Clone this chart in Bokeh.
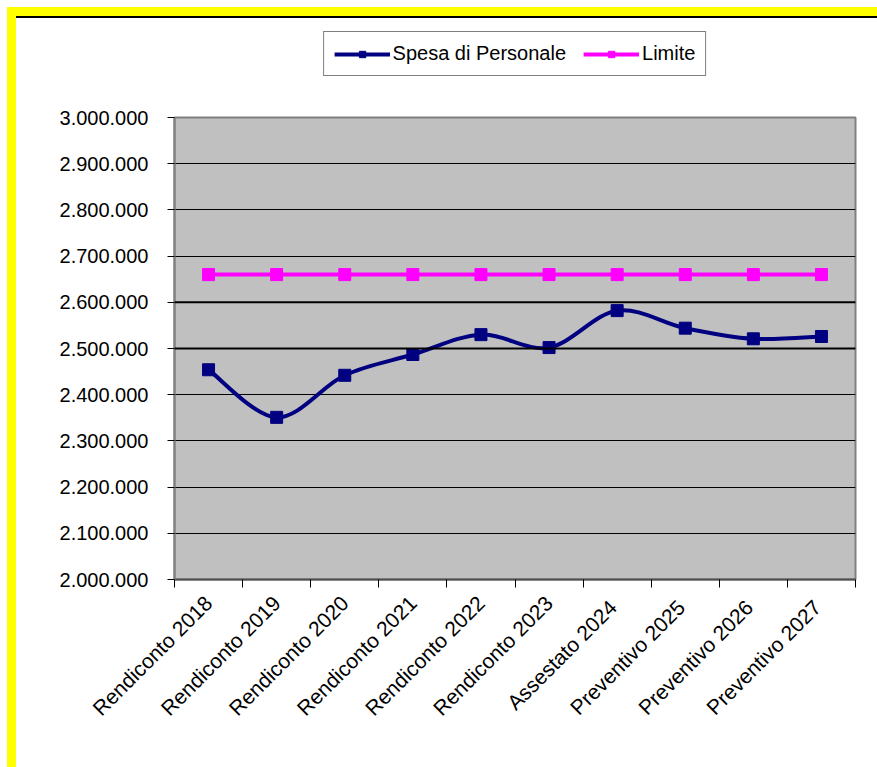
import math
from bokeh.plotting import figure
from bokeh.layouts import column
from bokeh.models import (Range1d, FixedTicker, Legend, LegendItem,
                          ColumnDataSource, Span)
from bokeh.embed import file_html
from bokeh.resources import INLINE

# ---- data -------------------------------------------------------------
categories = ["Rendiconto 2018", "Rendiconto 2019", "Rendiconto 2020", "Rendiconto 2021",
              "Rendiconto 2022", "Rendiconto 2023", "Assestato  2024", "Preventivo  2025",
              "Preventivo  2026", "Preventivo  2027"]
spesa_personale = [2454000, 2351000, 2442000, 2487000, 2530000,
                   2502000, 2582000, 2544000, 2521000, 2526000]
limite = [2660000] * 10
y_ticks = [2000000, 2100000, 2200000, 2300000, 2400000, 2500000,
           2600000, 2700000, 2800000, 2900000, 3000000]
emphasized_levels = [2500000, 2600000]
series_names = ["Spesa di Personale", "Limite"]

FONT = "Liberation Sans"
NAVY = "#000080"
MAGENTA = "#FF00FF"

xs = [i + 0.5 for i in range(len(categories))]

# ---- main chart ---------------------------------------------------------
p = figure(width=861, height=665, output_backend="svg", toolbar_location=None,
           x_range=Range1d(0, len(categories)), y_range=Range1d(2000000, 3000000),
           min_border_left=158, min_border_right=22, min_border_top=15,
           min_border_bottom=188)
p.background_fill_color = "#C0C0C0"
p.border_fill_color = "white"
p.outline_line_color = "#808080"
p.outline_line_width = 2

p.xgrid.grid_line_color = None
p.ygrid.grid_line_color = "black"
p.ygrid.grid_line_width = 1
for lv in emphasized_levels:
    p.add_layout(Span(location=lv, dimension="width", line_color="black", line_width=2))

p.yaxis.ticker = FixedTicker(ticks=y_ticks)
p.yaxis.major_label_overrides = {v: f"{v:,}".replace(",", ".") for v in y_ticks}
p.yaxis.major_label_text_font = FONT
p.yaxis.major_label_text_font_size = "20px"
p.yaxis.major_label_text_color = "black"
p.yaxis.axis_line_color = "#808080"
p.yaxis.axis_line_width = 2
p.yaxis.major_tick_line_color = "black"
p.yaxis.major_tick_out = 7
p.yaxis.major_tick_in = 0
p.yaxis.minor_tick_line_color = None
p.yaxis.major_label_standoff = 19

# labels at category centres, ticks on the category boundaries
p.xaxis.ticker = FixedTicker(ticks=xs, minor_ticks=list(range(len(categories) + 1)))
p.xaxis.major_label_overrides = {x: c for x, c in zip(xs, categories)}
p.xaxis.major_label_orientation = math.pi / 4
p.xaxis.major_label_text_font = FONT
p.xaxis.major_label_text_font_size = "21px"
p.xaxis.major_label_text_color = "black"
p.xaxis.axis_line_color = "#505050"
p.xaxis.axis_line_width = 2
p.xaxis.major_tick_line_color = None
p.xaxis.major_tick_out = 8
p.xaxis.major_tick_in = 0
p.xaxis.minor_tick_line_color = "black"
p.xaxis.minor_tick_out = 8
p.xaxis.minor_tick_in = 0
p.xaxis.major_label_standoff = 12


def smooth_segments(x, y):
    """Cubic Bezier segments through the points (Catmull-Rom style smoothing)."""
    n = len(x)
    seg = dict(x0=[], y0=[], x1=[], y1=[], cx0=[], cy0=[], cx1=[], cy1=[])
    for i in range(n - 1):
        xp, yp = (x[i - 1], y[i - 1]) if i > 0 else (x[i], y[i])
        xn, yn = (x[i + 2], y[i + 2]) if i + 2 < n else (x[i + 1], y[i + 1])
        seg["x0"].append(x[i]); seg["y0"].append(y[i])
        seg["x1"].append(x[i + 1]); seg["y1"].append(y[i + 1])
        seg["cx0"].append(x[i] + (x[i + 1] - xp) / 6)
        seg["cy0"].append(y[i] + (y[i + 1] - yp) / 6)
        seg["cx1"].append(x[i + 1] - (xn - x[i]) / 6)
        seg["cy1"].append(y[i + 1] - (yn - y[i]) / 6)
    return seg


p.bezier(source=ColumnDataSource(smooth_segments(xs, spesa_personale)),
         x0="x0", y0="y0", x1="x1", y1="y1", cx0="cx0", cy0="cy0",
         cx1="cx1", cy1="cy1", line_color=NAVY, line_width=4)
p.scatter(xs, spesa_personale, marker="square", size=12, fill_color=NAVY, line_color=NAVY)
p.line(xs, limite, line_color=MAGENTA, line_width=4)
p.scatter(xs, limite, marker="square", size=12, fill_color=MAGENTA, line_color=MAGENTA)

# ---- legend strip above the chart --------------------------------------
# same side borders as the chart so the legend centres over the plot area
top = figure(width=861, height=86, output_backend="svg", toolbar_location=None,
             x_range=Range1d(0, 1), y_range=Range1d(0, 1),
             min_border_left=158, min_border_right=22, min_border_top=13,
             min_border_bottom=21)
top.axis.visible = False
top.grid.grid_line_color = None
top.outline_line_color = None
top.background_fill_color = "white"
top.border_fill_color = "white"
top.styles = {"border-top": "2px solid black"}

items = []
for name, color in zip(series_names, [NAVY, MAGENTA]):
    ln = top.line([-5, -4], [-5, -5], line_color=color, line_width=4)
    mk = top.scatter([-5], [-5], marker="square", size=12, fill_color=color, line_color=color)
    items.append(LegendItem(label=name, renderers=[ln, mk]))

legend = Legend(items=items, orientation="horizontal", location="top_center")
legend.label_text_font = FONT
legend.label_text_font_size = "20px"
legend.label_text_color = "black"
legend.glyph_width = 56
legend.glyph_height = 16
legend.label_standoff = 3
legend.spacing = 17
legend.padding = 10
legend.margin = 0
legend.border_line_color = "black"
legend.border_line_width = 1
legend.background_fill_color = "white"
legend.background_fill_alpha = 1
top.add_layout(legend, "center")

# yellow page border around the chart
page = column(top, p, spacing=0,
              styles={"border-top": "9px solid #FFFF00",
                      "border-left": "9px solid #FFFF00",
                      "margin-top": "7px", "margin-left": "7px"})

open("out.html", "w").write(file_html(page, INLINE))
